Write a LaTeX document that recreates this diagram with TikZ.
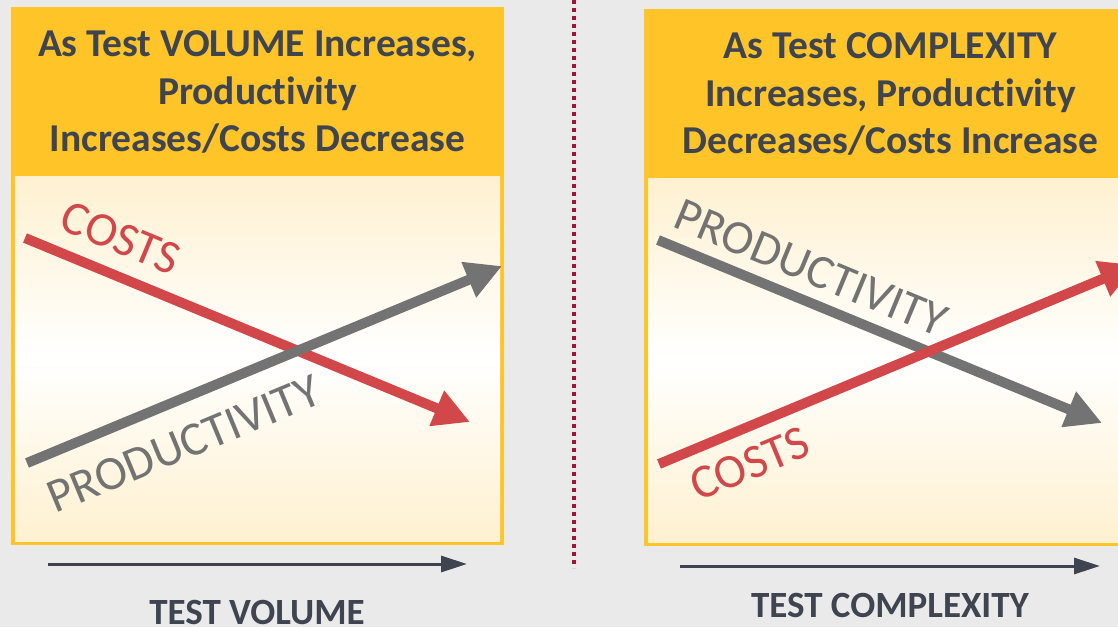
\documentclass[tikz,border=0pt]{standalone}
\usepackage{fontspec}
\setmainfont[Ligatures={NoCommon}]{Carlito}
\usetikzlibrary{arrows.meta}
\definecolor{bg}{HTML}{EAEAEA}
\definecolor{hdr}{HTML}{FFC427}
\definecolor{ink}{HTML}{3E4450}
\definecolor{cred}{HTML}{D2474A}
\definecolor{cgray}{HTML}{737373}
\definecolor{dotred}{HTML}{A0143C}
\definecolor{cream}{HTML}{FFF1D0}
\begin{document}
\begin{tikzpicture}[x=1pt,y=-1pt,
  panel/.style={fill=hdr},
  body/.style={top color=cream, bottom color=cream, middle color=white},
  head/.style={font=\fontsize{39.5}{47.5}\selectfont\bfseries, text=ink, align=center},
  trend/.style={line width=10pt, -{Triangle[length=36pt,width=36pt]}},
  axis/.style={line width=3pt, draw=ink, -{Triangle[length=26pt,width=16pt]}},
  axlabel/.style={font=\fontsize{37}{40}\selectfont\bfseries, text=ink},
  curvelabel/.style={font=\fontsize{48}{50}\selectfont},
  divider/.style={draw=dotred, line width=4pt, dash pattern=on 4pt off 4pt},
]
\useasboundingbox (0,0) rectangle (1118,627);
\clip (0,0) rectangle (1118,627);
\fill[bg] (0,0) rectangle (1118,627);

% divider
\coordinate (d0) at (574,0);
\coordinate (d1) at (574,568);
\draw[divider] (d0) -- (d1);

% left panel
\fill[panel] (11,7) rectangle (504,545);
\shade[body] (15,176) rectangle (500,541);
\node[head] (lh) at (257.5,92) {As Test VOLUME Increases,\\Productivity\\Increases/Costs Decrease};

\coordinate (lc0) at (25,238);
\coordinate (lc1) at (470,422);
\draw[trend, cred] (lc0) -- (lc1);
\coordinate (lp0) at (27,463);
\coordinate (lp1) at (502,266);
\draw[trend, cgray] (lp0) -- (lp1);
\node[curvelabel, text=cred, rotate=-22.5] (lcl) at (121,238) {COSTS};
\node[curvelabel, text=cgray, rotate=22.5] (lpl) at (184,444) {PRODUCTIVITY};

\coordinate (la0) at (48,564);
\coordinate (la1) at (467,564);
\draw[axis] (la0) -- (la1);
\node[axlabel, anchor=base] (lal) at (257,624) {TEST VOLUME};

% right panel
\fill[panel] (644,9) rectangle (1137,546);
\shade[body] (648,178) rectangle (1133,542);
\node[head] (rh) at (890.5,94) {As Test COMPLEXITY\\Increases, Productivity\\Decreases/Costs Increase};

\coordinate (rp0) at (658,240);
\coordinate (rp1) at (1102,423);
\draw[trend, cgray] (rp0) -- (rp1);
\coordinate (rc0) at (659,464);
\coordinate (rc1) at (1136,265);
\draw[trend, cred] (rc0) -- (rc1);
\node[curvelabel, text=cgray, rotate=-22.5] (rpl) at (811,268) {PRODUCTIVITY};
\node[curvelabel, text=cred, rotate=22.5] (rcl) at (750,464) {COSTS};

\coordinate (ra0) at (680,566);
\coordinate (ra1) at (1100,566);
\draw[axis] (ra0) -- (ra1);
\node[axlabel, anchor=base] (ral) at (890,617) {TEST COMPLEXITY};
\end{tikzpicture}
\end{document}
